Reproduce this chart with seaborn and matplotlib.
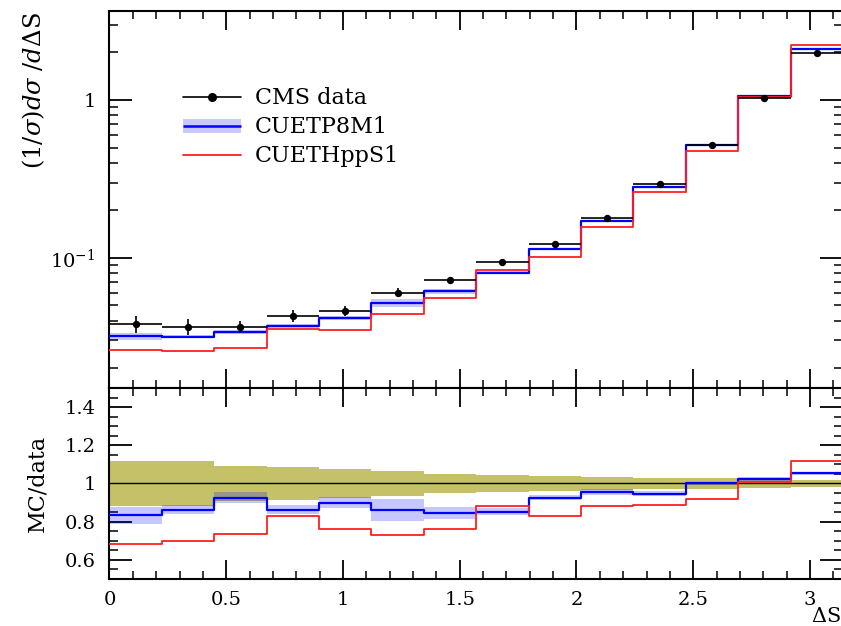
import numpy as np
import matplotlib
matplotlib.use("Agg")
import matplotlib.pyplot as plt
import matplotlib.patheffects as pe
import seaborn as sns
import pandas as pd
from matplotlib.lines import Line2D
from matplotlib.ticker import MultipleLocator, LogLocator, NullFormatter

# ---------------- data ----------------
bin_edges = [0.0, 0.224, 0.449, 0.673, 0.898, 1.122, 1.346, 1.571,
             1.795, 2.020, 2.244, 2.468, 2.693, 2.917, 3.1416]
data_vals = [0.0381, 0.0367, 0.0367, 0.0430, 0.0462, 0.0603, 0.0726,
             0.0948, 0.1227, 0.178, 0.295, 0.520, 1.03, 1.99]
data_rel_err = [0.12, 0.12, 0.09, 0.087, 0.075, 0.065, 0.05,
                0.044, 0.037, 0.033, 0.030, 0.027, 0.022, 0.017]
p8_vals = [0.0318, 0.0317, 0.0340, 0.0371, 0.0415, 0.0519, 0.0614,
           0.0808, 0.1135, 0.1702, 0.2794, 0.520, 1.054, 2.095]
p8_rel_err = [0.053, 0.026, 0.032, 0.026, 0.032, 0.065, 0.035,
              0.020, 0.015, 0.015, 0.012, 0.010, 0.008, 0.008]
hpp_vals = [0.0261, 0.0256, 0.0269, 0.0356, 0.0351, 0.0439, 0.0554,
            0.0836, 0.1016, 0.157, 0.2623, 0.4774, 1.039, 2.225]
series_labels = ["CMS data", "CUETP8M1", "CUETHppS1"]
x_tick_vals = [0, 0.5, 1, 1.5, 2, 2.5, 3]
x_tick_labels = ["0", "0.5", "1", "1.5", "2", "2.5", "3"]
ratio_tick_vals = [0.6, 0.8, 1.0, 1.2, 1.4]
ratio_tick_labels = ["0.6", "0.8", "1", "1.2", "1.4"]
top_tick_vals = [0.1, 1.0]
top_tick_labels = [r"$10^{-1}$", "1"]

# ---------------- style ----------------
sns.set_theme(style="ticks")
plt.rcParams['font.family'] = ['DejaVu Serif', 'DejaVu Sans']
plt.rcParams['mathtext.fontset'] = 'dejavuserif'
plt.rcParams['axes.linewidth'] = 1.5
for key in ('text.color', 'axes.labelcolor', 'xtick.color', 'ytick.color',
            'axes.edgecolor'):
    plt.rcParams[key] = 'black'

YELLOW = "#c4c168"
BLUE = "#0000ff"
RED = "#ff2020"
BAND_LEGEND = "#c8c8fa"

edges = np.array(bin_edges)
centers = 0.5 * (edges[:-1] + edges[1:])
halfw = 0.5 * (edges[1:] - edges[:-1])
data = np.array(data_vals)
p8 = np.array(p8_vals)
hpp = np.array(hpp_vals)
d_rel = np.array(data_rel_err)
p8_rel = np.array(p8_rel_err)


def stepy(v):
    v = np.asarray(v, dtype=float)
    return np.append(v, v[-1])


fig = plt.figure(figsize=(8.41, 6.26), dpi=100)
ax1 = fig.add_axes([0.1302, 0.3802, 0.8722, 0.6022])
ax2 = fig.add_axes([0.1302, 0.0751, 0.8722, 0.3051], sharex=ax1)

# ---------------- top panel ----------------
ax1.set_yscale('log')
ax1.fill_between(edges, stepy(p8 * (1 - p8_rel)), stepy(p8 * (1 + p8_rel)),
                 step='post', color=BLUE, alpha=0.22, lw=0, zorder=1)
df_p8 = pd.DataFrame({"x": edges, "y": stepy(p8)})
df_hpp = pd.DataFrame({"x": edges, "y": stepy(hpp)})
sns.lineplot(data=df_p8, x="x", y="y", ax=ax1, color=BLUE, lw=1.6,
             drawstyle='steps-post', zorder=3)
sns.lineplot(data=df_hpp, x="x", y="y", ax=ax1, color=RED, lw=1.3,
             drawstyle='steps-post', zorder=3)
ax1.errorbar(centers, data, xerr=halfw, yerr=data * d_rel, fmt='none',
             ecolor='black', elinewidth=1.2, capsize=0, zorder=4)
sns.scatterplot(x=centers, y=data, ax=ax1, color='black', s=28,
                edgecolor='black', linewidth=0, zorder=5)

ax1.set_xlim(0, edges[-1])
ax1.set_ylim(0.0150, 3.66)
ax1.set_yticks(top_tick_vals, top_tick_labels)
ax1.yaxis.set_minor_locator(LogLocator(base=10, subs=np.arange(2, 10)))
ax1.yaxis.set_minor_formatter(NullFormatter())
ax1.set_xticks(x_tick_vals)
ax1.xaxis.set_minor_locator(MultipleLocator(0.1))
ax1.tick_params(axis='x', labelbottom=False)
ax1.set_xlabel("")
ax1.set_ylabel(r"$(1/\sigma)d\sigma\ /d\Delta\mathrm{S}$", fontsize=17.5,
               loc='top')
ax1.yaxis.set_label_coords(-0.085, 0.997)

# legend
h_data = Line2D([], [], color='black', lw=1.2, marker='o', markersize=5.5)
h_p8 = Line2D([], [], color=BLUE, lw=1.8, solid_capstyle='butt',
              path_effects=[pe.Stroke(linewidth=10, foreground=BAND_LEGEND,
                                      capstyle='butt'),
                            pe.Normal()])
h_hpp = Line2D([], [], color=RED, lw=1.3)
ax1.legend([h_data, h_p8, h_hpp], series_labels,
           loc='upper left', bbox_to_anchor=(183 / 841, 1 - 87 / 626),
           bbox_transform=fig.transFigure, frameon=False, fontsize=16,
           handlelength=2.6, handleheight=0.55, handletextpad=0.65,
           labelspacing=0.32, borderpad=0, borderaxespad=0)

# ---------------- ratio panel ----------------
ax2.fill_between(edges, stepy(1 - d_rel), stepy(1 + d_rel), step='post',
                 color=YELLOW, lw=0, zorder=1)
r_p8 = p8 / data
r_hpp = hpp / data
ax2.fill_between(edges, stepy(r_p8 * (1 - p8_rel)), stepy(r_p8 * (1 + p8_rel)),
                 step='post', color=BLUE, alpha=0.22, lw=0, zorder=2)
ax2.axhline(1.0, color='black', lw=1.0, zorder=3)
df_rp8 = pd.DataFrame({"x": edges, "y": stepy(r_p8)})
df_rhpp = pd.DataFrame({"x": edges, "y": stepy(r_hpp)})
sns.lineplot(data=df_rp8, x="x", y="y", ax=ax2, color=BLUE, lw=1.6,
             drawstyle='steps-post', zorder=4)
sns.lineplot(data=df_rhpp, x="x", y="y", ax=ax2, color=RED, lw=1.3,
             drawstyle='steps-post', zorder=4)

ax2.set_ylim(0.5, 1.5)
ax2.set_yticks(ratio_tick_vals, ratio_tick_labels)
ax2.yaxis.set_minor_locator(MultipleLocator(0.05))
ax2.set_xticks(x_tick_vals, x_tick_labels)
ax2.xaxis.set_minor_locator(MultipleLocator(0.1))
ax2.set_ylabel("MC/data", fontsize=16)
ax2.yaxis.set_label_coords(-0.084, 0.5)
ax2.set_xlabel(r"$\Delta$S", fontsize=15, loc='right')
ax2.xaxis.set_label_coords(0.9973, -0.148)

# ticks
for ax in (ax1, ax2):
    ax.tick_params(which='both', direction='in', top=True, right=True,
                   bottom=True, left=True, colors='black', labelsize=14)
    ax.tick_params(axis='x', which='major', length=13.5, width=1.3, pad=9)
    ax.tick_params(axis='x', which='minor', length=5.5, width=1.1)
    ax.tick_params(axis='y', which='major', length=16.5, width=1.3, pad=10)
    ax.tick_params(axis='y', which='minor', length=6.5, width=1.1)
    for s in ax.spines.values():
        s.set_color('black')
        s.set_linewidth(1.5)

fig.savefig("out.png", dpi=100)
